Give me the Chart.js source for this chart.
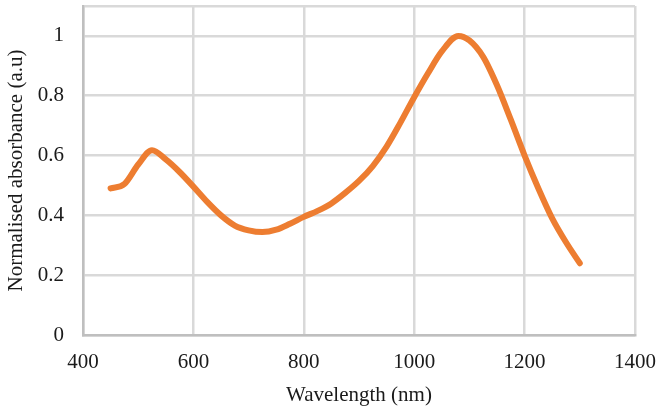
<!DOCTYPE html>
<html>
<head>
<meta charset="utf-8">
<script src="https://cdn.jsdelivr.net/npm/chart.js@4"></script>
<style>
  html, body { margin: 0; padding: 0; background: #fff; }
  #wrap { width: 659px; height: 408px; }
</style>
</head>
<body>
<div id="wrap"><canvas id="chart" width="659" height="408"></canvas></div>
<script>
// wavelength (nm) and normalised absorbance
const wavelength = [450, 475, 500, 525, 550, 575, 600, 625, 650, 675, 700, 725, 750, 775, 800,
  825, 850, 875, 900, 925, 950, 975, 1000, 1025, 1050, 1080, 1100, 1125, 1150, 1175, 1200,
  1225, 1250, 1275, 1300];
const absorbance = [0.49, 0.505, 0.57, 0.618, 0.587, 0.545, 0.496, 0.445, 0.4, 0.366, 0.35, 0.344,
  0.352, 0.372, 0.395, 0.415, 0.44, 0.475, 0.515, 0.565, 0.63, 0.71, 0.795, 0.875, 0.948, 1.0,
  0.985, 0.93, 0.835, 0.72, 0.6, 0.49, 0.39, 0.31, 0.24];

const xTicks = { min: 400, max: 1400, step: 200 };
const yTicks = { min: 0, max: 1.1, step: 0.2 };

const points = wavelength.map((w, i) => ({ x: w, y: absorbance[i] }));
const font = { family: 'Liberation Serif', size: 21 };
const gridColor = '#d9d9d9';

function noPad(s) {
  s.paddingTop = 0;
  s.paddingBottom = 0;
  s.paddingLeft = 0;
  s.paddingRight = 0;
}

new Chart(document.getElementById('chart').getContext('2d'), {
  type: 'line',
  data: {
    datasets: [{
      data: points,
      borderColor: '#ed7d31',
      borderWidth: 6,
      borderCapStyle: 'round',
      borderJoinStyle: 'round',
      pointRadius: 0,
      cubicInterpolationMode: 'monotone',
      fill: false,
    }],
  },
  options: {
    responsive: false,
    animation: false,
    layout: { padding: { top: 6, right: 24, left: 0, bottom: 0 } },
    plugins: { legend: { display: false }, tooltip: { enabled: false } },
    scales: {
      x: {
        type: 'linear',
        min: xTicks.min,
        max: xTicks.max,
        afterFit: (s) => { s.height = 73; noPad(s); },
        ticks: {
          stepSize: xTicks.step,
          color: '#1a1a1a',
          font: font,
          padding: 15,
          maxRotation: 0,
          callback: (v) => String(v),
        },
        grid: { color: gridColor, lineWidth: 2.5, drawTicks: false },
        border: { color: '#bfbfbf', width: 2.5 },
        title: { display: true, text: 'Wavelength (nm)', color: '#1a1a1a', font: font, padding: 0 },
      },
      y: {
        min: yTicks.min,
        max: yTicks.max,
        afterFit: (s) => { s.width = 83; noPad(s); },
        ticks: {
          stepSize: yTicks.step,
          color: '#1a1a1a',
          font: font,
          padding: 19,
          callback: (v) => (v > 1.05 ? '' : String(Math.round(v * 10) / 10)),
        },
        grid: { color: gridColor, lineWidth: 2.5, drawTicks: false },
        border: { color: '#bfbfbf', width: 2.5 },
        title: { display: true, text: 'Normalised absorbance (a.u)', color: '#1a1a1a', font: font, padding: { top: 4, bottom: 0 } },
      },
    },
  },
});
</script>
</body>
</html>
